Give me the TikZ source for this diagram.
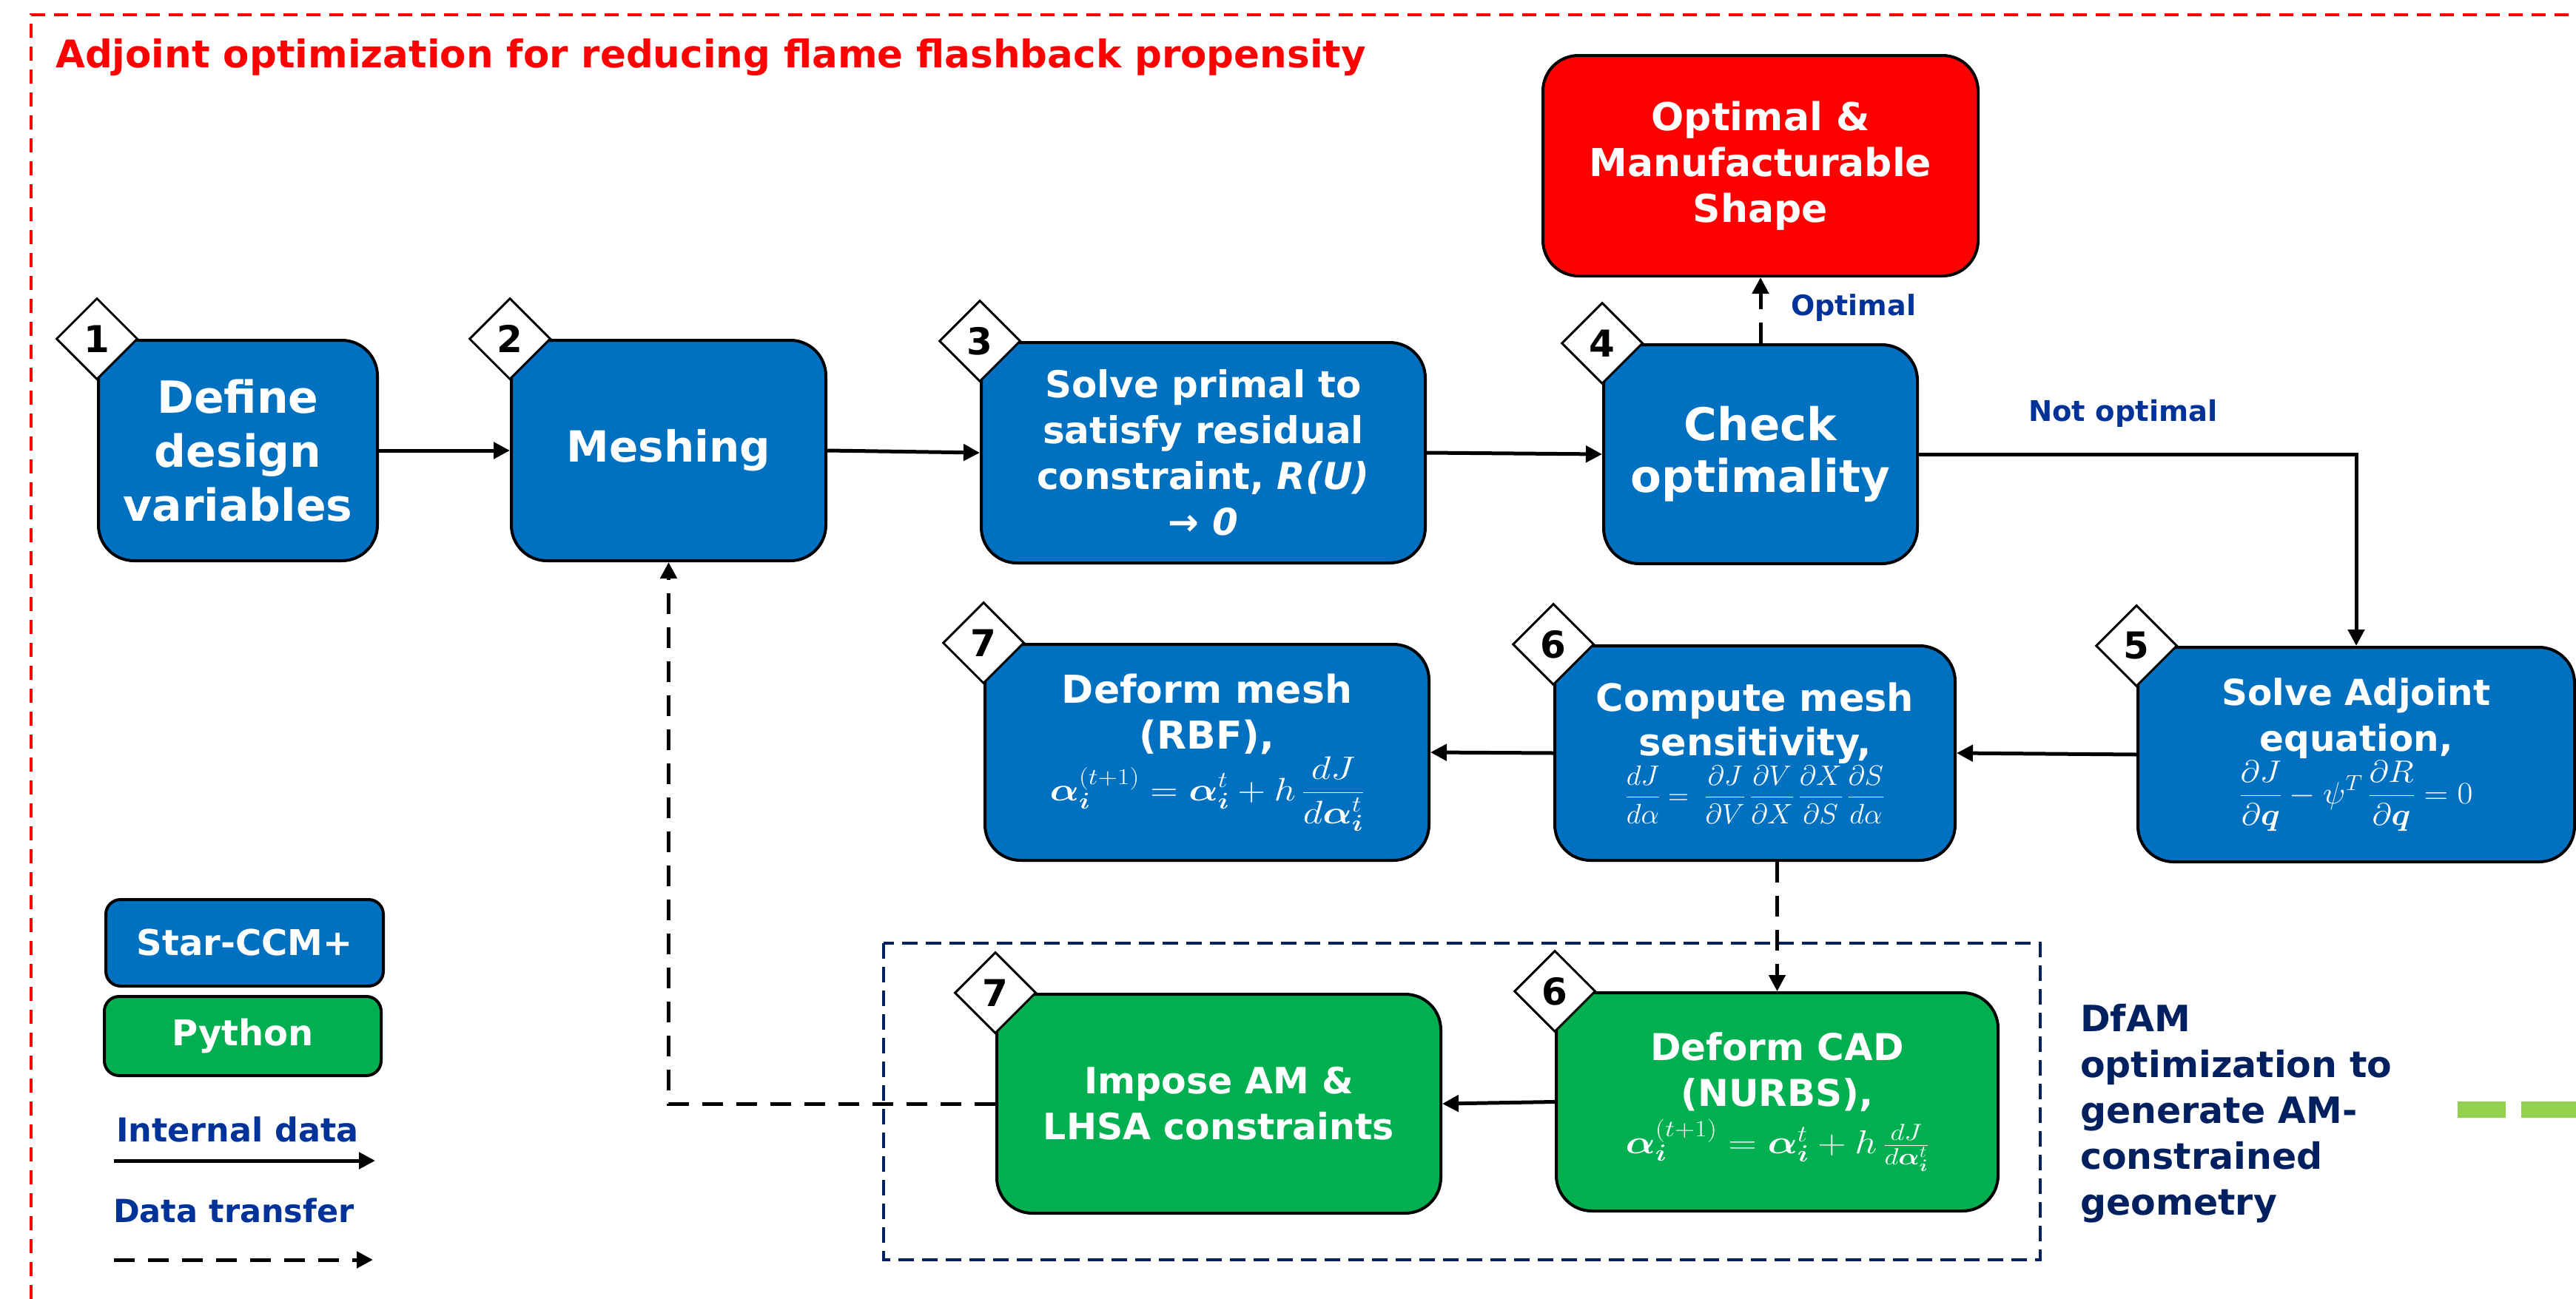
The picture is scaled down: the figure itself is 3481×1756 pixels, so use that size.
\RequirePackage{fix-cm}
\documentclass[tikz,border=0pt]{standalone}
\usepackage{amsmath}
\usepackage{fontspec}
\setmainfont{DejaVu Sans}
\usetikzlibrary{arrows.meta,shapes.geometric,calc}
\definecolor{cblue}{HTML}{0070C0}
\definecolor{cgreen}{HTML}{00B050}
\definecolor{cred}{HTML}{FF0000}
\definecolor{lblue}{HTML}{003399}
\definecolor{navy}{HTML}{002060}
\definecolor{lgreen}{HTML}{92D050}
\newcommand{\fsz}[2]{\fontsize{#1}{#2}\selectfont\bfseries}
\newcommand{\ba}{\boldsymbol{\alpha}}
\newcommand{\bi}{\boldsymbol{i}}
\begin{document}
\begin{tikzpicture}[x=1pt,y=-1pt,
  box/.style={draw=black, line width=4pt, rounded corners=48pt, text=white, align=center, inner sep=0pt},
  bluebox/.style={box, fill=cblue},
  greenbox/.style={box, fill=cgreen},
  legbox/.style={draw=black, line width=4pt, rounded corners=20pt, text=white, inner sep=0pt, font={\fsz{48}{58}}},
  num/.style={diamond, aspect=1, draw=black, line width=3pt, fill=white, minimum width=110pt, minimum height=110pt, inner sep=0pt, font={\fsz{50}{58}}},
  arr/.style={line width=5pt, -{Triangle[length=22pt,width=22pt]}},
  darr/.style={arr, dash pattern=on 28pt off 18pt},
  lbl/.style={text=lblue, inner sep=0pt, anchor=west}
]
\useasboundingbox (0,0) rectangle (3481,1756);
\fill[white] (0,0) rectangle (3481,1756);

% outer red frame (only top and left visible)
\draw[cred, line width=4pt, dash pattern=on 19pt off 12pt] (42,1756) -- (42,20) -- (3481,20);
\node[anchor=base west, inner sep=0pt, text=cred, font={\fsz{51.5}{60}}] (title) at (75,91) {Adjoint optimization for reducing flame flashback propensity};

% DfAM frame
\draw[navy, line width=3.5pt, dash pattern=on 21pt off 11pt] (1194,1275) rectangle (2757,1703);

% main boxes
\node[bluebox, minimum width=377pt, minimum height=298pt, font={\fsz{60}{73}}] (b1) at (321.5,609) {Define\\design\\variables};
\node[bluebox, minimum width=425pt, minimum height=298pt, font={\fsz{58}{70}}] (b2) at (903.5,609) {Meshing};
\node[bluebox, minimum width=600pt, minimum height=298pt, font={\fsz{50}{62}}] (b3) at (1626,612) {Solve primal to\\satisfy residual\\constraint, \textit{R(U)}\\\textit{→ 0}};
\node[bluebox, minimum width=424pt, minimum height=296pt, font={\fsz{61}{70}}] (b4) at (2379,614) {Check\\optimality};
\node[box, fill=cred, minimum width=588pt, minimum height=298pt, font={\fsz{52}{62}}] (opt) at (2379,224) {Optimal \&\\Manufacturable\\Shape};
\node[bluebox, minimum width=590pt, minimum height=290pt, font={\fsz{48.5}{62}}] (b5) at (3184,1020) {Solve Adjoint\\equation,\\[2pt]
  \fontsize{42}{40}\selectfont\scalebox{1.08}[1]{$\displaystyle \frac{\partial J}{\partial \boldsymbol{q}} - \psi^{T}\,\frac{\partial R}{\partial \boldsymbol{q}} = 0$}};
\node[bluebox, minimum width=541pt, minimum height=290pt, font={\fsz{51}{60}}] (b6) at (2371.5,1018) {Compute mesh\\sensitivity,\\[2pt]
  \fontsize{38}{36}\selectfont\scalebox{1.02}[1]{$\displaystyle \frac{dJ}{d\alpha} =\; \frac{\partial J}{\partial V}\,\frac{\partial V}{\partial X}\,\frac{\partial X}{\partial S}\,\frac{\partial S}{d\alpha}$}};
\node[bluebox, minimum width=600pt, minimum height=292pt, font={\fsz{52}{62}}] (b7) at (1631,1017) {Deform mesh\\(RBF),\\[2pt]
  \fontsize{44}{40}\selectfont\scalebox{1.18}[1]{$\displaystyle \ba_{\bi}^{(t+1)} = \ba_{\bi}^{t} + h\,\frac{dJ}{d\ba_{\bi}^{t}}$}};
\node[greenbox, minimum width=597pt, minimum height=295pt, font={\fsz{50}{62}}] (cad) at (2401.5,1489.5) {Deform CAD\\(NURBS),\\[2pt]
  \fontsize{45}{40}\selectfont\scalebox{1.18}[1]{$\ba_{\bi}^{(t+1)} = \ba_{\bi}^{t} + h\,\frac{dJ}{d\ba_{\bi}^{t}}$}};
\node[greenbox, minimum width=600pt, minimum height=296pt, font={\fsz{49}{62}}] (imp) at (1647,1492) {Impose AM \&\\LHSA constraints};

% number diamonds
\node[num] (n1) at (b1.north west) {1};
\node[num] (n2) at (b2.north west) {2};
\node[num] (n3) at (b3.north west) {3};
\node[num] (n4) at (b4.north west) {4};
\node[num] (n5) at (b5.north west) {5};
\node[num] (n6) at (b6.north west) {6};
\node[num] (n7) at (b7.north west) {7};
\node[num] (n6b) at (cad.north west) {6};
\node[num] (n7b) at (imp.north west) {7};

% connectors
\draw[arr] (b1.east) -- (b2.west);
\draw[arr] (b2.east) -- (b3.west);
\draw[arr] (b3.east) -- (b4.west);
\draw[darr] (b4.north) -- (opt.south);
\draw[arr] (b4.east) -| (b5.north);
\draw[arr] (b5.west) -- (b6.east);
\draw[arr] (b6.west) -- (b7.east);
\draw[darr] (b6.south -| cad.north) -- (cad.north);
\draw[arr] (cad.west) -- (imp.east);
\draw[darr] (imp.west) -| (b2.south);

\node[lbl, font={\fsz{38}{46}}] (lopt) at (2420,416) {Optimal};
\node[lbl, font={\fsz{38.5}{46}}] (lnot) at (2741,559) {Not optimal};

% DfAM label and green dashes
\node[anchor=west, inner sep=0pt, align=left, text=navy, font={\fsz{49}{62}}] (dfam) at (2811,1505) {DfAM\\optimization to\\generate AM-\\constrained\\geometry};
\fill[lgreen] (3321,1489) rectangle (3386,1511);
\fill[lgreen] (3407,1489) rectangle (3481,1511);

% legend
\node[legbox, fill=cblue, minimum width=375pt, minimum height=117pt] (star) at (330.5,1274.5) {Star-CCM+};
\node[legbox, fill=cgreen, minimum width=374pt, minimum height=107pt] (py) at (328,1400.5) {Python};
\node[lbl, font={\fsz{44.5}{50}}] (lint) at (157,1527) {Internal data};
\node[lbl, font={\fsz{43}{50}}] (ltr) at (153,1636) {Data transfer};
\coordinate (la1) at (154,1569);
\coordinate (la2) at (507,1569);
\coordinate (ld1) at (154,1703);
\coordinate (ld2) at (504,1703);
\draw[arr] (la1) -- (la2);
\draw[darr] (ld1) -- (ld2);
\end{tikzpicture}
\end{document}
